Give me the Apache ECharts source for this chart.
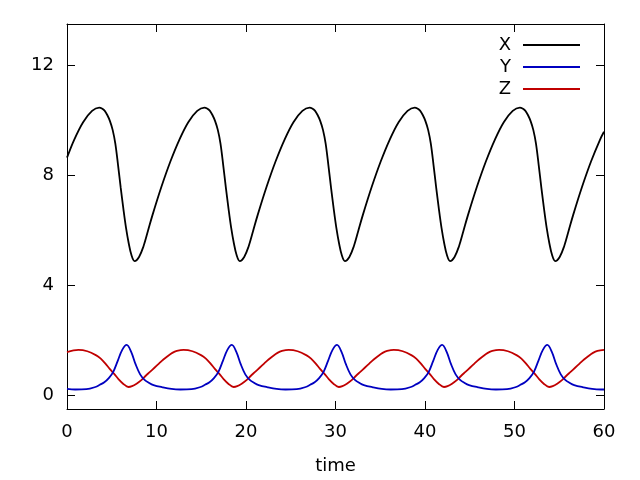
<!DOCTYPE html>
<html>
<head>
<meta charset="utf-8">
<script src="https://cdn.jsdelivr.net/npm/echarts@6/dist/echarts.min.js"></script>
<style>html,body{margin:0;padding:0;background:#fff}#chart{width:640px;height:480px}</style>
</head>
<body>
<div id="chart"></div>
<script>
var seriesNames = ['X', 'Y', 'Z'];
var xTicks = [0, 10, 20, 30, 40, 50, 60];
var yTicks = [0, 4, 8, 12];

var xTime = [0, 0.8, 1.8, 2.8, 3.6, 3.9, 4.2, 4.5, 4.8, 5.1, 5.4, 5.7, 6.0, 6.3, 6.6, 6.9, 7.2,
  7.55, 8.05, 8.55, 9.05, 9.55, 10.55, 11.55, 12.55, 13.55, 14.55, 15.35, 15.65, 15.95, 16.25, 16.55, 16.85, 17.15, 17.45, 17.75, 18.05, 18.35, 18.65, 18.95,
  19.3, 19.8, 20.3, 20.8, 21.3, 22.3, 23.3, 24.3, 25.3, 26.3, 27.1, 27.4, 27.7, 28.0, 28.3, 28.6, 28.9, 29.2, 29.5, 29.8, 30.1, 30.4, 30.7,
  31.05, 31.55, 32.05, 32.55, 33.05, 34.05, 35.05, 36.05, 37.05, 38.05, 38.85, 39.15, 39.45, 39.75, 40.05, 40.35, 40.65, 40.95, 41.25, 41.55, 41.85, 42.15, 42.45,
  42.8, 43.3, 43.8, 44.3, 44.8, 45.8, 46.8, 47.8, 48.8, 49.8, 50.6, 50.9, 51.2, 51.5, 51.8, 52.1, 52.4, 52.7, 53.0, 53.3, 53.6, 53.9, 54.2,
  54.55, 55.05, 55.55, 56.05, 56.55, 57.55, 58.55, 59.55, 60];
var xValues = [8.64, 9.29, 9.93, 10.34, 10.46, 10.43, 10.35, 10.19, 9.97, 9.65, 9.15, 8.38, 7.55, 6.78, 6.08, 5.52, 5.10,
  4.88, 5.03, 5.42, 5.98, 6.55, 7.58, 8.50, 9.29, 9.93, 10.34, 10.46, 10.43, 10.35, 10.19, 9.97, 9.65, 9.15, 8.38, 7.55, 6.78, 6.08, 5.52, 5.10,
  4.88, 5.03, 5.42, 5.98, 6.55, 7.58, 8.50, 9.29, 9.93, 10.34, 10.46, 10.43, 10.35, 10.19, 9.97, 9.65, 9.15, 8.38, 7.55, 6.78, 6.08, 5.52, 5.10,
  4.88, 5.03, 5.42, 5.98, 6.55, 7.58, 8.50, 9.29, 9.93, 10.34, 10.46, 10.43, 10.35, 10.19, 9.97, 9.65, 9.15, 8.38, 7.55, 6.78, 6.08, 5.52, 5.10,
  4.88, 5.03, 5.42, 5.98, 6.55, 7.58, 8.50, 9.29, 9.93, 10.34, 10.46, 10.43, 10.35, 10.19, 9.97, 9.65, 9.15, 8.38, 7.55, 6.78, 6.08, 5.52, 5.10,
  4.88, 5.03, 5.42, 5.98, 6.55, 7.58, 8.50, 9.29, 9.58];

var yTime = [0, 0.92, 2.17, 3.17, 3.67, 4.17, 4.67, 5.17, 5.67, 6.17, 6.67, 7.17, 7.67, 8.17, 8.67, 9.17, 9.67, 10.67, 11.67, 12.67,
  13.92, 14.92, 15.42, 15.92, 16.42, 16.92, 17.42, 17.92, 18.42, 18.92, 19.42, 19.92, 20.42, 20.92, 21.42, 22.42, 23.42, 24.42,
  25.67, 26.67, 27.17, 27.67, 28.17, 28.67, 29.17, 29.67, 30.17, 30.67, 31.17, 31.67, 32.17, 32.67, 33.17, 34.17, 35.17, 36.17,
  37.42, 38.42, 38.92, 39.42, 39.92, 40.42, 40.92, 41.42, 41.92, 42.42, 42.92, 43.42, 43.92, 44.42, 44.92, 45.92, 46.92, 47.92,
  49.17, 50.17, 50.67, 51.17, 51.67, 52.17, 52.67, 53.17, 53.67, 54.17, 54.67, 55.17, 55.67, 56.17, 56.67, 57.67, 58.67, 59.67, 60];
var yValues = [0.23, 0.21, 0.22, 0.30, 0.38, 0.47, 0.62, 0.85, 1.25, 1.65, 1.83, 1.58, 1.12, 0.76, 0.56, 0.45, 0.37, 0.29, 0.23, 0.21,
  0.22, 0.30, 0.38, 0.47, 0.62, 0.85, 1.25, 1.65, 1.83, 1.58, 1.12, 0.76, 0.56, 0.45, 0.37, 0.29, 0.23, 0.21,
  0.22, 0.30, 0.38, 0.47, 0.62, 0.85, 1.25, 1.65, 1.83, 1.58, 1.12, 0.76, 0.56, 0.45, 0.37, 0.29, 0.23, 0.21,
  0.22, 0.30, 0.38, 0.47, 0.62, 0.85, 1.25, 1.65, 1.83, 1.58, 1.12, 0.76, 0.56, 0.45, 0.37, 0.29, 0.23, 0.21,
  0.22, 0.30, 0.38, 0.47, 0.62, 0.85, 1.25, 1.65, 1.83, 1.58, 1.12, 0.76, 0.56, 0.45, 0.37, 0.29, 0.23, 0.21, 0.21];

var zTime = [0, 1.27, 2.27, 3.27, 3.77, 4.27, 4.77, 5.27, 5.77, 6.27, 6.87, 7.27, 7.77, 8.27, 8.77, 9.27, 9.77, 10.27, 10.77, 11.27, 11.77, 12.27,
  13.02, 14.02, 15.02, 15.52, 16.02, 16.52, 17.02, 17.52, 18.02, 18.62, 19.02, 19.52, 20.02, 20.52, 21.02, 21.52, 22.02, 22.52, 23.02, 23.52, 24.02,
  24.77, 25.77, 26.77, 27.27, 27.77, 28.27, 28.77, 29.27, 29.77, 30.37, 30.77, 31.27, 31.77, 32.27, 32.77, 33.27, 33.77, 34.27, 34.77, 35.27, 35.77,
  36.52, 37.52, 38.52, 39.02, 39.52, 40.02, 40.52, 41.02, 41.52, 42.12, 42.52, 43.02, 43.52, 44.02, 44.52, 45.02, 45.52, 46.02, 46.52, 47.02, 47.52,
  48.27, 49.27, 50.27, 50.77, 51.27, 51.77, 52.27, 52.77, 53.27, 53.87, 54.27, 54.77, 55.27, 55.77, 56.27, 56.77, 57.27, 57.77, 58.27, 58.77, 59.27, 60];
var zValues = [1.57, 1.65, 1.60, 1.45, 1.33, 1.16, 0.96, 0.78, 0.58, 0.42, 0.30, 0.33, 0.42, 0.54, 0.70, 0.85, 1.00, 1.15, 1.30, 1.43, 1.54, 1.61,
  1.65, 1.60, 1.45, 1.33, 1.16, 0.96, 0.78, 0.58, 0.42, 0.30, 0.33, 0.42, 0.54, 0.70, 0.85, 1.00, 1.15, 1.30, 1.43, 1.54, 1.61,
  1.65, 1.60, 1.45, 1.33, 1.16, 0.96, 0.78, 0.58, 0.42, 0.30, 0.33, 0.42, 0.54, 0.70, 0.85, 1.00, 1.15, 1.30, 1.43, 1.54, 1.61,
  1.65, 1.60, 1.45, 1.33, 1.16, 0.96, 0.78, 0.58, 0.42, 0.30, 0.33, 0.42, 0.54, 0.70, 0.85, 1.00, 1.15, 1.30, 1.43, 1.54, 1.61,
  1.65, 1.60, 1.45, 1.33, 1.16, 0.96, 0.78, 0.58, 0.42, 0.30, 0.33, 0.42, 0.54, 0.70, 0.85, 1.00, 1.15, 1.30, 1.43, 1.54, 1.61, 1.65];

function pairs(t, v) { return t.map(function (x, i) { return [x, v[i]]; }); }

var font = 'DejaVu Sans';
var fs = 18;
var colors = ['#000000', '#0000c0', '#c00000'];
var chart = echarts.init(document.getElementById('chart'), null, {renderer: 'canvas'});

function xAx(pos, show) {
  return {
    type: 'value', position: pos, min: 0, max: 60,
    axisLine: {show: true, onZero: false, lineStyle: {color: '#000', width: 1}},
    axisTick: {show: true, inside: true, length: 8, customValues: xTicks, lineStyle: {color: '#000'}},
    axisLabel: {show: show, customValues: xTicks, color: '#000', fontFamily: font, fontSize: fs, margin: 14},
    splitLine: {show: false},
    name: show ? 'time' : '', nameLocation: 'middle', nameGap: 48,
    nameTextStyle: {color: '#000', fontFamily: font, fontSize: fs}
  };
}
function yAx(pos, show) {
  return {
    type: 'value', position: pos, min: -0.5, max: 13.5,
    axisLine: {show: true, onZero: false, lineStyle: {color: '#000', width: 1}},
    axisTick: {show: true, inside: true, length: 8, customValues: yTicks, lineStyle: {color: '#000'}},
    axisLabel: {show: show, customValues: yTicks, color: '#000', fontFamily: font, fontSize: fs, margin: 13, padding: [4, 0, 0, 0]},
    splitLine: {show: false}
  };
}

var series = [[xTime, xValues], [yTime, yValues], [zTime, zValues]].map(function (d, i) {
  return {
    name: seriesNames[i], type: 'line', xAxisIndex: 0, yAxisIndex: 0,
    data: pairs(d[0], d[1]), smooth: 0.35, showSymbol: false, symbol: 'none',
    lineStyle: {color: colors[i], width: 1.8}, itemStyle: {color: colors[i]},
    animation: false, z: 3 - i
  };
});

chart.setOption({
  animation: false,
  backgroundColor: '#fff',
  grid: {left: 67, right: 36, top: 24, bottom: 71, containLabel: false},
  legend: {
    data: seriesNames, orient: 'vertical', right: 60, top: 36, align: 'right', padding: 0,
    icon: 'rect', itemWidth: 57, itemHeight: 2, itemGap: 4,
    textStyle: {color: '#000', fontFamily: font, fontSize: fs, padding: [0, 7, 0, 0]}
  },
  xAxis: [xAx('bottom', true), xAx('top', false)],
  yAxis: [yAx('left', true), yAx('right', false)],
  series: series
});
</script>
</body>
</html>
